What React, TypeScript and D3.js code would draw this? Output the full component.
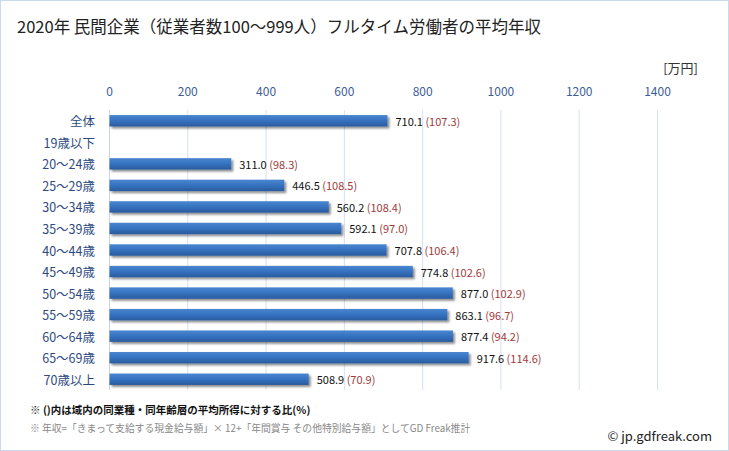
import React from "react";
import * as d3 from "d3";

const categories = ["全体", "19歳以下", "20～24歳", "25～29歳", "30～34歳", "35～39歳", "40～44歳", "45～49歳", "50～54歳", "55～59歳", "60～64歳", "65～69歳", "70歳以上"];
const values: (number | null)[] = [710.1, null, 311.0, 446.5, 560.2, 592.1, 707.8, 774.8, 877.0, 863.1, 877.4, 917.6, 508.9];
const ratios: (number | null)[] = [107.3, null, 98.3, 108.5, 108.4, 97.0, 106.4, 102.6, 102.9, 96.7, 94.2, 114.6, 70.9];
const ticks = [0, 200, 400, 600, 800, 1000, 1200, 1400];

const title = "2020年 民間企業（従業者数100～999人）フルタイム労働者の平均年収";
const unit = "[万円]";
const note1 = "※ ()内は域内の同業種・同年齢層の平均所得に対する比(%)";
const note2 = "※ 年収=「きまって支給する現金給与額」× 12+「年間賞与 その他特別給与額」としてGD Freak推計";
const credit = "© jp.gdfreak.com";

const W = 729, H = 451;
const FONT = "'Noto Sans CJK JP', 'Noto Sans', sans-serif";

export default function App() {
  const x = d3.scaleLinear().domain([0, 1400]).range([109.5, 657.5]);
  const y = d3.scaleBand<string>().domain(categories).range([110, 390]).paddingInner(0.47).paddingOuter(0.235);
  const bh = y.bandwidth();

  return (
    <div style={{ position: "absolute", left: 0, top: 0 }}>
      <svg width={W} height={H} style={{ display: "block", fontFamily: FONT }}>
        <defs>
          <linearGradient id="barGrad" x1="0" y1="0" x2="0" y2="1">
            <stop offset="0%" stopColor="#4a86d0" />
            <stop offset="50%" stopColor="#3572c0" />
            <stop offset="100%" stopColor="#2a5b9e" />
          </linearGradient>
          <filter id="shadow" x="-5%" y="-30%" width="115%" height="180%">
            <feGaussianBlur in="SourceAlpha" stdDeviation="1.2" />
            <feOffset dx="2" dy="2" result="ob" />
            <feComponentTransfer><feFuncA type="linear" slope="0.45" /></feComponentTransfer>
            <feMerge><feMergeNode /><feMergeNode in="SourceGraphic" /></feMerge>
          </filter>
        </defs>
        <rect x={0.5} y={0.5} width={W - 1} height={H - 1} fill="#fff" stroke="#c9d9ee" strokeWidth={1} />
        <text x={17} y={33} fontSize={16.5} fill="#222">{title}</text>
        <text x={698} y={73} fontSize={13} fill="#333" textAnchor="end">{unit}</text>
        {ticks.map((t) => (
          <g key={t}>
            <line x1={x(t)} x2={x(t)} y1={110} y2={390} stroke={t === 0 ? "#c8d4e4" : "#d4e0f0"} strokeWidth={1} />
            <text x={x(t)} y={96} fontSize={12} fill="#3d5d96" textAnchor="middle">{t}</text>
          </g>
        ))}
        {categories.map((c, i) => {
          const yc = (y(c) as number) + bh / 2;
          const v = values[i];
          const r = ratios[i];
          return (
            <g key={c}>
              <text x={95} y={yc} fontSize={12.5} fill="#2d4a80" textAnchor="end" dominantBaseline="central">{c}</text>
              {v != null && (
                <>
                  <rect x={x(0)} y={y(c) as number} width={x(v) - x(0)} height={bh} fill="url(#barGrad)" filter="url(#shadow)" />
                  <text x={x(v) + 8} y={yc} fontSize={11} dominantBaseline="central">
                    <tspan fill="#111">{v.toFixed(1)}</tspan>
                    <tspan fill="#a23a3a">{` (${(r as number).toFixed(1)})`}</tspan>
                  </text>
                </>
              )}
            </g>
          );
        })}
        <text x={30} y={414} fontSize={10.5} fontWeight="bold" fill="#111">{note1}</text>
        <text x={30} y={432} fontSize={9.8} fill="#888">{note2}</text>
        <text x={712} y={441} fontSize={13} fill="#222" textAnchor="end">{credit}</text>
      </svg>
    </div>
  );
}
